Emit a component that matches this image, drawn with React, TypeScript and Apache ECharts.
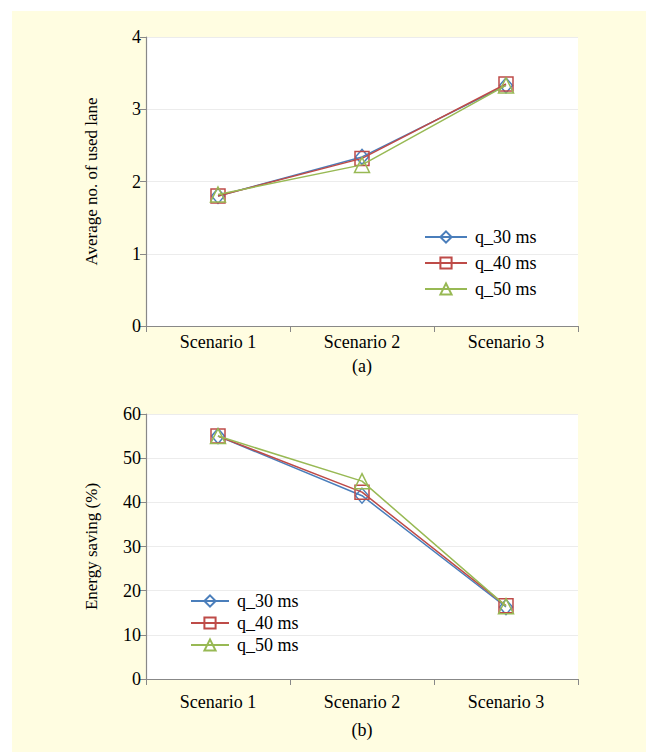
import React, { useEffect, useRef } from "react";
import * as echarts from "echarts";

const categories = ["Scenario 1", "Scenario 2", "Scenario 3"];
const seriesNames = ["q_30 ms", "q_40 ms", "q_50 ms"];
const laneQ30 = [1.8, 2.34, 3.33];
const laneQ40 = [1.8, 2.32, 3.35];
const laneQ50 = [1.82, 2.23, 3.33];
const saveQ30 = [55, 41.5, 16.3];
const saveQ40 = [55, 42.3, 16.6];
const saveQ50 = [55, 44.8, 16.5];
const laneTicks = { min: 0, max: 4, interval: 1 };
const saveTicks = { min: 0, max: 60, interval: 10 };

const COLORS = ["#4A7EBB", "#BE4B48", "#98B954"];
const SYMBOLS = ["diamond", "rect", "triangle"];
const FONT = "'Liberation Serif', 'Times New Roman', serif";

export default function App() {
  const ref = useRef<HTMLDivElement>(null);
  useEffect(() => {
    if (!ref.current) return;
    const chart = echarts.init(ref.current, undefined, { renderer: "svg" });
    const laneData = [laneQ30, laneQ40, laneQ50];
    const saveData = [saveQ30, saveQ40, saveQ50];
    const mkSeries = (data: number[][], idx: number) =>
      data.map((d, i) => ({
        name: seriesNames[i],
        type: "line",
        xAxisIndex: idx,
        yAxisIndex: idx,
        data: d,
        symbol: SYMBOLS[i],
        symbolSize: i === 1 ? 14 : i === 0 ? [13, 15] : 15,
        lineStyle: { color: COLORS[i], width: 1.5 },
        itemStyle: { color: "rgba(255,255,255,0)", borderColor: COLORS[i], borderWidth: 1.5 },
        z: 3 + i,
      }));
    const xAx = (gi: number, margin: number) => ({
      type: "category",
      gridIndex: gi,
      data: categories,
      boundaryGap: true,
      axisLine: { lineStyle: { color: "#888", width: 1.2 } },
      axisTick: { show: true, length: 6, lineStyle: { color: "#888" } },
      axisLabel: { color: "#000", fontFamily: FONT, fontSize: 18, margin },
      splitLine: { show: false },
    });
    const yAx = (gi: number, t: any, name: string) => ({
      type: "value",
      gridIndex: gi,
      ...t,
      name,
      nameLocation: "middle",
      nameGap: 46,
      nameTextStyle: { color: "#000", fontFamily: FONT, fontSize: 17 },
      axisLine: { show: true, lineStyle: { color: "#888", width: 1.2 } },
      axisTick: { show: true, length: 6, lineStyle: { color: "#888" } },
      axisLabel: { color: "#000", fontFamily: FONT, fontSize: 18, margin: 5 },
      splitLine: { show: true, lineStyle: { color: "#ECECEC", width: 1 } },
    });
    const legendBase = {
      data: seriesNames,
      orient: "vertical",
      itemHeight: 14,
      padding: 0,
      textStyle: { color: "#000", fontFamily: FONT, fontSize: 18, padding: [0, 0, 0, 3] },
      backgroundColor: "transparent",
      selectedMode: false,
    };
    chart.setOption({
      animation: false,
      backgroundColor: "transparent",
      textStyle: { fontFamily: FONT },
      title: [
        { text: "(a)", left: 362, top: 357, textAlign: "center", textStyle: { fontFamily: FONT, fontSize: 18, fontWeight: "normal", color: "#000" }, padding: 0 },
        { text: "(b)", left: 362, top: 721, textAlign: "center", textStyle: { fontFamily: FONT, fontSize: 18, fontWeight: "normal", color: "#000" }, padding: 0 },
      ],
      grid: [
        { left: 146, top: 37, width: 432, height: 289, show: true, backgroundColor: "#fff", borderWidth: 0 },
        { left: 146, top: 414, width: 432, height: 265, show: true, backgroundColor: "#fff", borderWidth: 0 },
      ],
      legend: [
        { ...legendBase, left: 424, top: 228, itemGap: 8, itemWidth: 42 },
        { ...legendBase, left: 190, top: 592, itemGap: 4, itemWidth: 38 },
      ],
      xAxis: [xAx(0, 7), xAx(1, 14)],
      yAxis: [yAx(0, laneTicks, "Average no. of used lane"), yAx(1, saveTicks, "Energy saving (%)")],
      series: [...mkSeries(laneData, 0), ...mkSeries(saveData, 1)],
    });
    return () => chart.dispose();
  }, []);
  return (
    <div style={{ position: "fixed", left: 0, top: 0, width: 646, height: 752, background: "#fff" }}>
      <div style={{ position: "absolute", left: 12, top: 11, width: 634, height: 741, background: "#FFFDE1" }} />
      <div ref={ref} style={{ position: "absolute", left: 0, top: 0, width: 646, height: 752 }} />
    </div>
  );
}
